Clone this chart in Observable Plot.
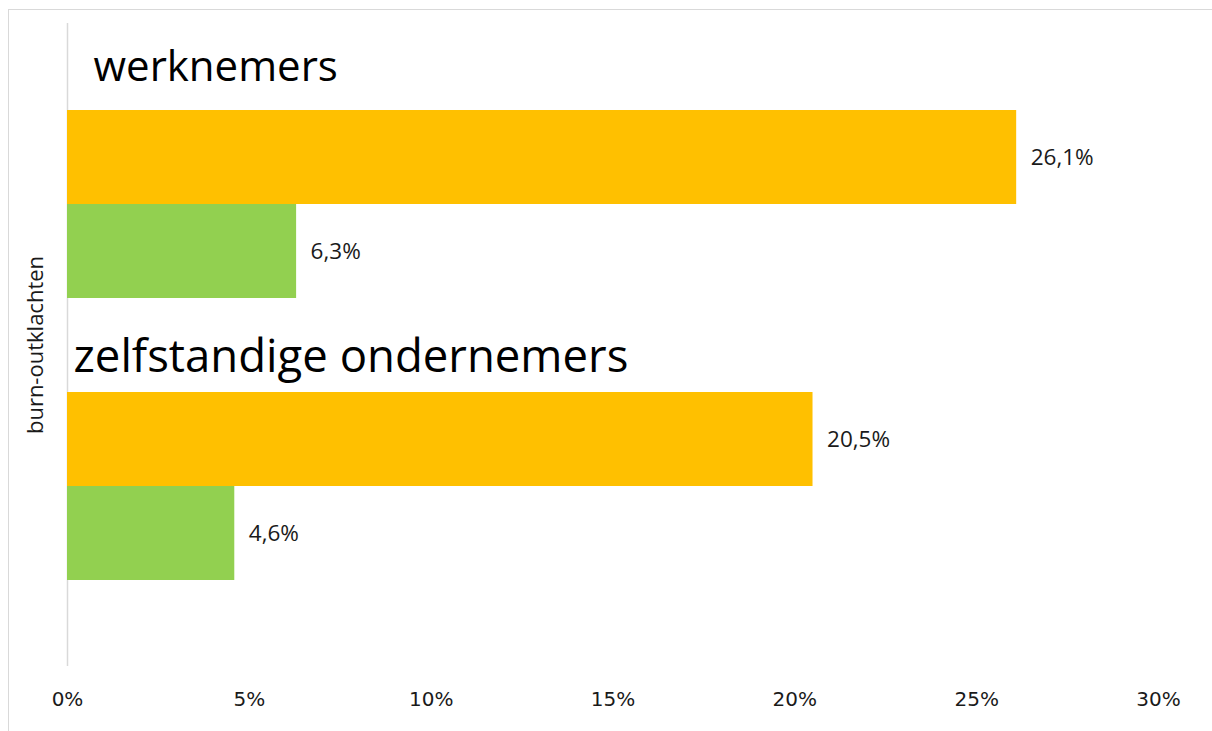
<!DOCTYPE html>
<html>
<head>
<meta charset="utf-8">
<script src="https://cdn.jsdelivr.net/npm/d3@7"></script>
<script src="https://cdn.jsdelivr.net/npm/@observablehq/plot@0.6"></script>
<style>
  html, body { margin: 0; padding: 0; background: #fff; overflow: hidden; }
  #frame { position: absolute; left: 8px; top: 9px; width: 1300px; height: 800px; border: 1px solid #d9d9d9; box-sizing: border-box; }
  #chart { position: absolute; left: 0; top: 0; }
  svg { font-family: "Open Sans", sans-serif; }
</style>
</head>
<body>
<div id="frame"></div>
<div id="chart"></div>
<script>
const groups = ["werknemers", "zelfstandige ondernemers"];
const seriesNames = ["reeks 1", "reeks 2"];
const seriesColors = ["#FFC000", "#92D050"];
const werknemersValues = [26.1, 6.3];
const zelfstandigeValues = [20.5, 4.6];
const xTicks = [0, 5, 10, 15, 20, 25, 30];
const yLabel = "burn-outklachten";

const valuesByGroup = [werknemersValues, zelfstandigeValues];
const data = [];
groups.forEach((g, gi) => {
  seriesNames.forEach((s, si) => {
    data.push({group: g, series: s, key: g + "|" + s, value: valuesByGroup[gi][si]});
  });
});
const rowDomain = [];
groups.forEach(g => {
  rowDomain.push("titel|" + g);
  seriesNames.forEach(s => rowDomain.push(g + "|" + s));
});
rowDomain.push("einde");

const fmt = v => v.toFixed(1).replace(".", ",") + "%";

const chart = Plot.plot({
  width: 1212,
  height: 731,
  marginLeft: 67,
  marginRight: 54,
  marginTop: 23,
  marginBottom: 65,
  style: {fontFamily: "'Open Sans', sans-serif", background: "transparent"},
  x: {domain: [0, 30]},
  y: {type: "band", domain: rowDomain, range: [13.5, 676], padding: 0, axis: null},
  color: {domain: seriesNames, range: seriesColors},
  marks: [
    Plot.ruleX([0], {stroke: "#d9d9d9", strokeWidth: 1.5}),
    Plot.barX(data, {x: "value", y: "key", fill: "series"}),
    Plot.text(data, {x: "value", y: "key", text: d => fmt(d.value), textAnchor: "start", dx: 14, fontSize: 22.5, fill: "#1a1a1a"}),
    Plot.text([groups[0]], {x: 0, y: d => "titel|" + d, text: d => d, textAnchor: "start", lineAnchor: "bottom", dx: 26, dy: 17.5, fontSize: 42, fill: "#000"}),
    Plot.text([groups[1]], {x: 0, y: d => "titel|" + d, text: d => d, textAnchor: "start", lineAnchor: "bottom", dx: 6, dy: 26, fontSize: 45.5, fill: "#000"}),
    Plot.text([yLabel], {frameAnchor: "left", textAnchor: "middle", lineAnchor: "middle", rotate: -90, dx: -32, text: d => d, fontSize: 22, fill: "#1a1a1a"}),
    Plot.axisX({ticks: xTicks, tickFormat: d => d + "%", tickSize: 0, tickPadding: 25, fontSize: 20, fontFamily: "'DejaVu Sans', sans-serif", label: null, color: "#1a1a1a"})
  ]
});
document.getElementById("chart").appendChild(chart);
</script>
</body>
</html>
